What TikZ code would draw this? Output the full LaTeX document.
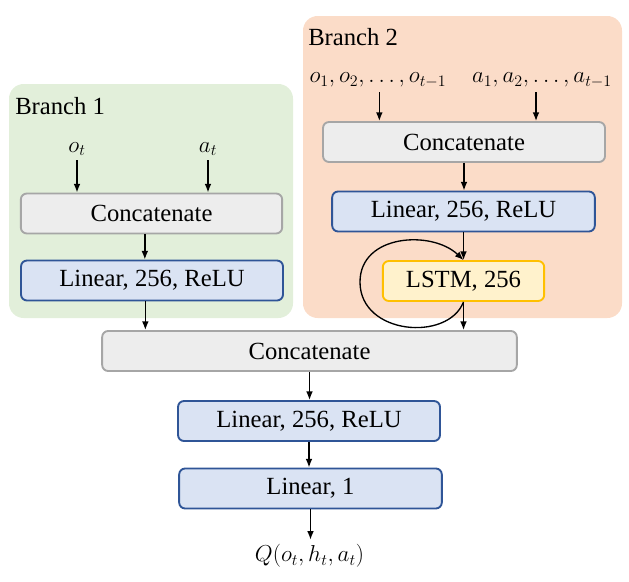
\documentclass[tikz,border=0pt]{standalone}
\usepackage{fontspec}
\setmainfont{Liberation Serif}
\usetikzlibrary{arrows.meta}
\definecolor{verde}{HTML}{E2EFDA}
\definecolor{pesca}{HTML}{FBDCC8}
\definecolor{grigiofill}{HTML}{EDEDED}
\definecolor{grigiobordo}{HTML}{A6A6A6}
\definecolor{blufill}{HTML}{DAE3F3}
\definecolor{blubordo}{HTML}{2F5597}
\definecolor{gialloFill}{HTML}{FFF2CC}
\definecolor{giallobordo}{HTML}{FFC000}
\begin{document}
\begin{tikzpicture}[x=0.75pt,y=-0.75pt,
        font=\fontsize{18.5}{22}\selectfont,
        blocco/.style={rounded corners=4.5pt, line width=1.4pt, minimum height=30pt, inner sep=0pt},
        grigio/.style={blocco, fill=grigiofill, draw=grigiobordo},
        lineare/.style={blocco, fill=blufill, draw=blubordo},
        lstmbox/.style={blocco, fill=gialloFill, draw=giallobordo},
        freccia/.style={-{Latex[length=6.5pt,width=5pt]}, line width=1pt}]
        \useasboundingbox (0,0) rectangle (629,582);

        % sfondi dei rami
        \fill[verde, rounded corners=11pt] (9,84) rectangle (293,318);
        \fill[pesca, rounded corners=11pt] (303,16) rectangle (622,318);
        \node[anchor=west, inner sep=0pt] (ramo1) at (15,106) {Branch 1};
        \node[anchor=west, inner sep=0pt] (ramo2) at (308,37) {Branch 2};

        % Ramo 1
        \node (ot) at (77,149) {$o_t$};
        \node (at) at (208,149) {$a_t$};
        \node[grigio, minimum width=196pt] (conc1) at (151.5,213.5) {Concatenate};
        \node[lineare, minimum width=196.5pt] (lin1) at (152,280.5) {Linear, 256, ReLU};
        \draw[freccia] (ot.south) -- (ot.south |- conc1.north);
        \draw[freccia] (at.south) -- (at.south |- conc1.north);
        \draw[freccia] ([xshift=-5pt]conc1.south) -- ([xshift=-5pt]conc1.south |- lin1.north);

        % Ramo 2
        \node (oseq) at (378,80) {$o_1, o_2, \ldots, o_{t-1}$};
        \node (aseq) at (542,80) {$a_1, a_2, \ldots, a_{t-1}$};
        \node[grigio, minimum width=211.5pt] (conc2) at (464,142) {Concatenate};
        \node[lineare, minimum width=197pt] (lin2) at (463.5,211.5) {Linear, 256, ReLU};
        \node[lstmbox, minimum width=121pt] (lstm) at (463.5,281) {LSTM, 256};
        \draw[freccia] ([xshift=1pt]oseq.south) -- ([xshift=1pt]oseq.south |- conc2.north);
        \draw[freccia] ([xshift=-4.5pt]aseq.south) -- ([xshift=-4.5pt]aseq.south |- conc2.north);
        \draw[freccia] (conc2.south) -- (conc2.south |- lin2.north);
        \draw[freccia] (lin2.south) -- (lin2.south |- lstm.north);
        % ricorrenza
        \draw[freccia] (lstm.south) .. controls (448,342) and (360,335) .. (360,282)
            .. controls (360,234) and (432,230) .. (lstm.north);

        % parte comune
        \node[grigio, minimum width=311pt] (conc) at (309.5,351) {Concatenate};
        \node[lineare, minimum width=196.5pt] (lin3) at (309,421) {Linear, 256, ReLU};
        \node[lineare, minimum width=197pt] (lin4) at (310.5,488.5) {Linear, 1};
        \node (q) at (309.5,556) {$Q(o_t, h_t, a_t)$};
        \draw[freccia] ([xshift=-5pt]lin1.south) -- ([xshift=-5pt]lin1.south |- conc.north);
        \draw[freccia] (lstm.south) -- (lstm.south |- conc.north);
        \draw[freccia] (conc.south) -- (conc.south |- lin3.north);
        \draw[freccia] (lin3.south) -- (lin3.south |- lin4.north);
        \draw[freccia] (lin4.south) -- (lin4.south |- q.north);
    \end{tikzpicture}
\end{document}
